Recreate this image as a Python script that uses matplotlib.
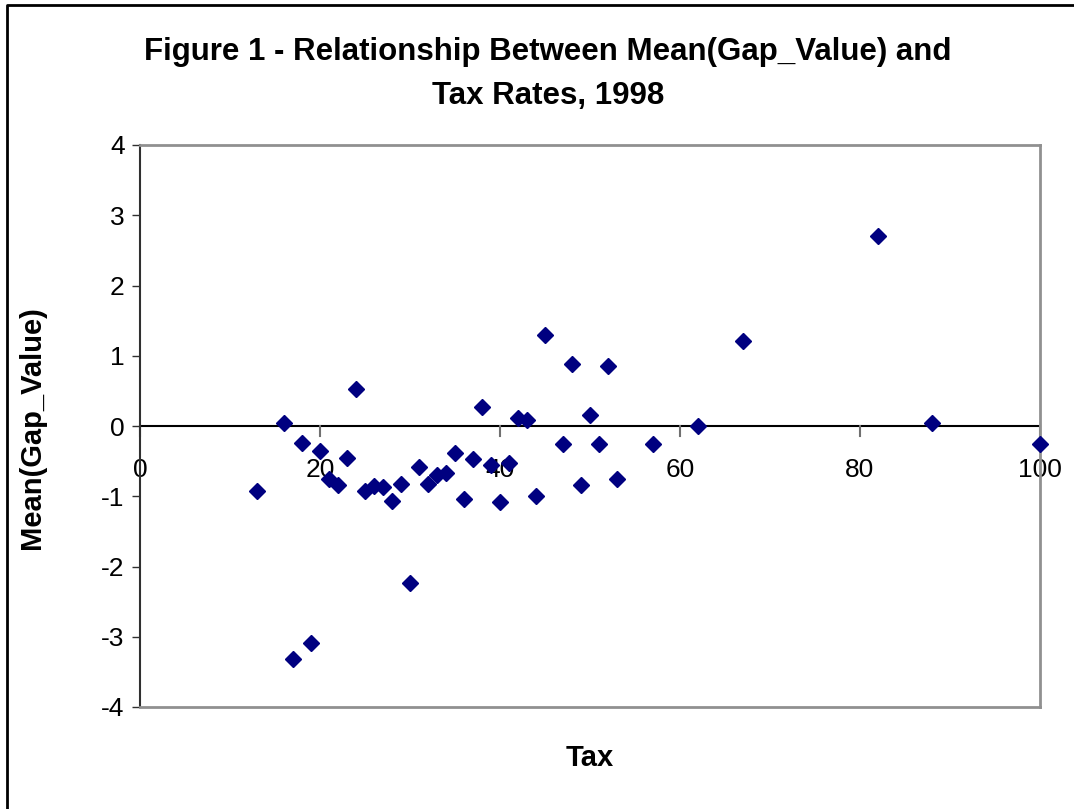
import matplotlib
matplotlib.use("Agg")
import matplotlib.pyplot as plt
from matplotlib.lines import Line2D

plt.rcParams['font.family'] = ['Liberation Sans', 'DejaVu Sans']

# values
tax = [13, 16, 18, 17, 20, 19, 21, 22, 23, 24, 25, 26, 27, 28, 29, 30, 31, 32,
       33, 34, 35, 36, 37, 38, 39, 40, 41, 42, 43, 44, 45, 47, 48, 49, 50, 51,
       52, 53, 57, 62, 67, 82, 88, 100]
gap_value = [-0.93, 0.04, -0.24, -3.32, -0.36, -3.09, -0.76, -0.84, -0.45, 0.52,
             -0.93, -0.85, -0.87, -1.07, -0.82, -2.24, -0.59, -0.82, -0.70, -0.67,
             -0.39, -1.04, -0.47, 0.27, -0.56, -1.08, -0.52, 0.12, 0.09, -0.99,
             1.30, -0.25, 0.88, -0.84, 0.16, -0.25, 0.85, -0.76, -0.25, 0.00,
             1.21, 2.71, 0.04, -0.25]
x_ticks = [0, 20, 40, 60, 80, 100]
y_ticks = [-4, -3, -2, -1, 0, 1, 2, 3, 4]

fig = plt.figure(figsize=(10.74, 8.09), dpi=100)
ax = fig.add_axes([140/1074, 1 - 707/809, 900/1074, 562/809])

ax.plot(tax, gap_value, linestyle='none', marker='D', markersize=8,
        color='#000080', clip_on=False, zorder=3)

ax.set_xlim(0, 100)
ax.set_ylim(-4, 4)

# frame: gray box, dark left spine, x axis crossing at zero
for s in ['top', 'right', 'bottom']:
    ax.spines[s].set_color('#909090')
    ax.spines[s].set_linewidth(2)
ax.spines['left'].set_color('#303030')
ax.spines['left'].set_linewidth(1.5)
ax.axhline(0, color='black', linewidth=1.5, zorder=2)

ax.set_yticks(y_ticks)
ax.set_yticklabels([str(v) for v in y_ticks], fontsize=19)
ax.tick_params(axis='y', direction='out', length=6, width=1, color='#303030', pad=5)

# x ticks hang from the zero line, labels below it
ax.set_xticks([])
for v in x_ticks:
    ax.plot([v, v], [0, -0.14], color='#707070', linewidth=1.5, clip_on=False, zorder=2)
    ax.text(v, -0.62, str(v), ha='center', va='center', fontsize=19, zorder=1)

fig.text(590/1074, 1 - 758/809, 'Tax', ha='center', va='center',
         fontsize=21, fontweight='bold')
fig.text(32/1074, 1 - 428/809, 'Mean(Gap_Value)', rotation=90, ha='center',
         va='center', fontsize=21, fontweight='bold')

fig.text(548/1074, 1 - 52/809, 'Figure 1 - Relationship Between Mean(Gap_Value) and',
         ha='center', va='center', fontsize=22.5, fontweight='bold')
fig.text(548/1074, 1 - 96/809, 'Tax Rates, 1998',
         ha='center', va='center', fontsize=22.5, fontweight='bold')

# outer border (top and left)
fig.add_artist(Line2D([7/1074, 7/1074, 1.0], [0.0, 1 - 5/809, 1 - 5/809],
                      transform=fig.transFigure, color='black', linewidth=2))

fig.savefig('out.png', dpi=100)
